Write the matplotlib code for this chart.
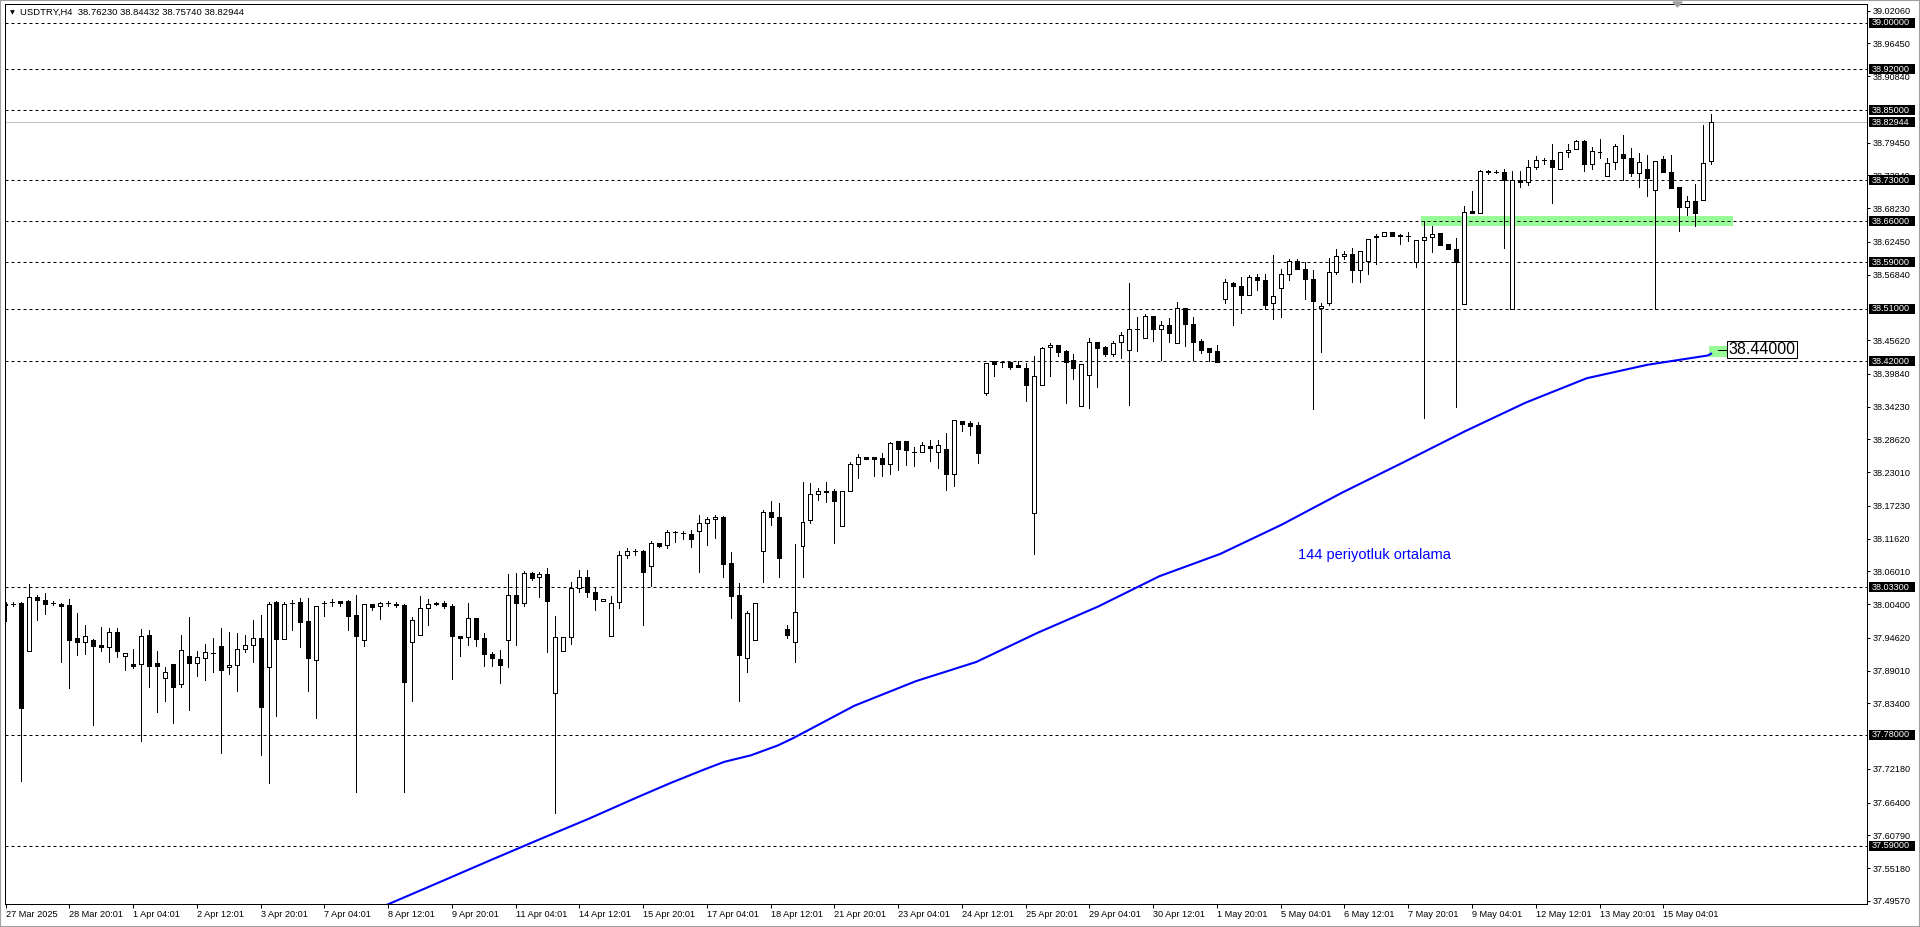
import numpy as np
import matplotlib
matplotlib.use("Agg")
import matplotlib.pyplot as plt
from matplotlib import transforms
from matplotlib.patches import Rectangle, Polygon

W, H = 1920, 927
plt.rcParams["font.family"] = ["Liberation Sans", "DejaVu Sans"]

# --- data (USDTRY, H4) ----------------------------------------------------
opens = [
    38.0051, 38.0046, 38.0057, 37.9233, 38.0160, 38.0120, 38.0057, 38.0040, 38.0023, 37.9455,
    37.9386, 37.9426, 37.9335, 37.9301, 37.9563, 37.9148, 37.9011, 37.9011, 37.9511, 37.9034,
    37.8784, 37.9017, 37.8670, 37.9153, 37.9028, 37.9114, 37.9199, 37.9318, 37.8960, 37.8994,
    37.9267, 37.9335, 37.9455, 37.8971, 38.0069, 37.9449, 38.0062, 38.0073, 37.9754, 37.9082,
    38.0062, 38.0085, 38.0090, 38.0096, 37.9857, 37.9418, 38.0039, 38.0005, 38.0056, 38.0051,
    38.0028, 37.9384, 37.9504, 37.9982, 38.0062, 38.0062, 38.0011, 37.9492, 37.9475, 37.9800,
    37.9458, 37.9184, 37.9105, 37.9424, 38.0199, 38.0068, 38.0575, 38.0501, 38.0552, 37.8518,
    37.9236, 37.9476, 38.0319, 38.0501, 38.0245, 38.0091, 37.9493, 38.0074, 38.0877, 38.0957,
    38.0946, 38.0689, 38.1082, 38.1048, 38.1271, 38.1253, 38.1242, 38.1288, 38.1424, 38.1493,
    38.1527, 38.0741, 38.0199, 37.9117, 37.9424, 38.0946, 38.1612, 38.1532, 37.9620, 37.9400,
    38.1041, 38.1486, 38.1926, 38.1983, 38.1972, 38.1372, 38.1972, 38.2434, 38.2554, 38.2554,
    38.2537, 38.2446, 38.2834, 38.2834, 38.2640, 38.2640, 38.2743, 38.2640, 38.2692, 38.2275,
    38.3177, 38.3143, 38.3103, 38.3663, 38.4200, 38.4183, 38.4195, 38.4143, 38.4086, 38.1600,
    38.3800, 38.4440, 38.4480, 38.4377, 38.4217, 38.3440, 38.3972, 38.4526, 38.4440, 38.4332,
    38.4526, 38.4389, 38.4749, 38.4595, 38.4972, 38.4749, 38.4817, 38.4520, 38.5109, 38.4835,
    38.4549, 38.4429, 38.4372, 38.5263, 38.5543, 38.5486, 38.5332, 38.5640, 38.5589, 38.5194,
    38.5452, 38.5692, 38.5914, 38.5777, 38.5606, 38.5109, 38.5194, 38.5726, 38.6000, 38.6034,
    38.5760, 38.5914, 38.6349, 38.6343, 38.6412, 38.6355, 38.6350, 38.5893, 38.6270, 38.6327,
    38.6390, 38.6207, 38.6116, 38.5178, 38.6768, 38.6733, 38.7460, 38.7448, 38.7442, 38.5104,
    38.7305, 38.7265, 38.7522, 38.7654, 38.7654, 38.7488, 38.7780, 38.7831, 38.7968, 38.7574,
    38.7791, 38.7368, 38.7614, 38.7745, 38.7677, 38.7420, 38.7488, 38.7134, 38.7660, 38.7442,
    38.7179, 38.6836, 38.6939, 38.6956, 38.7623,
]
highs = [
    38.0069, 38.0074, 38.0080, 38.0381, 38.0199, 38.0228, 38.0091, 38.0057, 38.0125, 37.9887,
    37.9682, 37.9438, 37.9648, 37.9631, 37.9631, 37.9199, 37.9273, 37.9614, 37.9597, 37.9239,
    37.8960, 37.9017, 37.9511, 37.9818, 37.9239, 37.9358, 37.9460, 37.9631, 37.9568, 37.9546,
    37.9511, 37.9767, 37.9853, 38.0080, 38.0097, 38.0080, 38.0113, 38.0147, 38.0147, 38.0005,
    38.0090, 38.0125, 38.0090, 38.0119, 38.0199, 38.0039, 38.0039, 38.0085, 38.0090, 38.0085,
    38.0051, 37.9823, 38.0182, 38.0130, 38.0073, 38.0096, 38.0051, 37.9492, 38.0068, 37.9800,
    37.9549, 37.9224, 37.9247, 38.0552, 38.0575, 38.0603, 38.0598, 38.0592, 38.0660, 37.9834,
    37.9476, 38.0416, 38.0621, 38.0621, 38.0336, 38.0125, 38.0177, 38.0951, 38.0997, 38.0991,
    38.0969, 38.1122, 38.1082, 38.1310, 38.1293, 38.1293, 38.1310, 38.1567, 38.1538, 38.1567,
    38.1550, 38.0934, 38.0404, 37.9920, 38.0057, 38.1652, 38.1800, 38.1772, 37.9680, 38.1070,
    38.2132, 38.2115, 38.2029, 38.2132, 38.2006, 38.1983, 38.2474, 38.2606, 38.2566, 38.2566,
    38.2629, 38.2812, 38.2834, 38.2834, 38.2737, 38.2812, 38.2857, 38.2857, 38.2966, 38.3189,
    38.3177, 38.3177, 38.3160, 38.4165, 38.4200, 38.4212, 38.4195, 38.4200, 38.4166, 38.4286,
    38.4452, 38.4509, 38.4480, 38.4395, 38.4320, 38.4149, 38.4595, 38.4526, 38.4469, 38.4543,
    38.4697, 38.5543, 38.4954, 38.5006, 38.4972, 38.4886, 38.4937, 38.5212, 38.5109, 38.4954,
    38.4583, 38.4429, 38.4475, 38.5606, 38.5560, 38.5640, 38.5674, 38.5697, 38.5697, 38.6017,
    38.5783, 38.5949, 38.5949, 38.5897, 38.5760, 38.5194, 38.5966, 38.6126, 38.6086, 38.6143,
    38.6086, 38.6292, 38.6389, 38.6412, 38.6412, 38.6377, 38.6419, 38.6270, 38.6608, 38.6510,
    38.6390, 38.6207, 38.6310, 38.6853, 38.7116, 38.7477, 38.7477, 38.7477, 38.7500, 38.7454,
    38.7454, 38.7648, 38.7717, 38.7683, 38.7923, 38.7780, 38.7917, 38.7991, 38.7991, 38.7866,
    38.8003, 38.7688, 38.7923, 38.8083, 38.7848, 38.7763, 38.7734, 38.7631, 38.7723, 38.7734,
    38.7179, 38.7025, 38.7231, 38.8249, 38.8443,
]
lows = [
    37.9756, 38.0012, 37.7010, 37.9233, 37.9767, 37.9875, 38.0029, 37.9057, 37.8596, 37.9176,
    37.9193, 37.7965, 37.9239, 37.9057, 37.9142, 37.8920, 37.8954, 37.7692, 37.8613, 37.8187,
    37.8374, 37.7999, 37.8613, 37.8221, 37.8818, 37.8733, 37.8875, 37.7488, 37.8841, 37.8545,
    37.9216, 37.9057, 37.7454, 37.6982, 37.8119, 37.9449, 37.9600, 37.9310, 37.8558, 37.8096,
    37.9845, 38.0011, 38.0016, 37.9600, 37.6820, 37.9327, 37.9942, 37.9788, 38.0011, 37.9988,
    37.6820, 37.8387, 37.9504, 37.9686, 38.0033, 37.9976, 37.8751, 37.9156, 37.9344, 37.9316,
    37.8985, 37.8985, 37.8683, 37.8968, 37.9344, 38.0016, 38.0455, 38.0170, 37.9213, 37.6467,
    37.9236, 37.9356, 38.0245, 38.0171, 37.9932, 38.0091, 37.9493, 37.9983, 38.0838, 38.0883,
    37.9675, 38.0353, 38.1020, 38.1008, 38.1105, 38.1162, 38.1020, 38.0598, 38.1060, 38.1179,
    38.0513, 37.9795, 37.8376, 37.8872, 37.9424, 38.0427, 38.1390, 38.0500, 37.9460, 37.9050,
    38.0500, 38.1435, 38.1829, 38.1795, 38.1080, 38.1372, 38.1972, 38.2206, 38.2532, 38.2240,
    38.2240, 38.2274, 38.2343, 38.2429, 38.2412, 38.2640, 38.2497, 38.2377, 38.2000, 38.2069,
    38.3011, 38.2943, 38.2463, 38.3628, 38.3954, 38.4109, 38.4069, 38.4097, 38.3526, 38.0900,
    38.3800, 38.3955, 38.4297, 38.3492, 38.3903, 38.3440, 38.3406, 38.3766, 38.4297, 38.4297,
    38.4263, 38.3458, 38.4383, 38.4595, 38.4555, 38.4223, 38.4537, 38.4520, 38.4469, 38.4223,
    38.4337, 38.4200, 38.4183, 38.5194, 38.4829, 38.5023, 38.5332, 38.5423, 38.5092, 38.4920,
    38.4966, 38.5589, 38.5777, 38.5275, 38.3389, 38.4366, 38.5160, 38.5697, 38.5949, 38.5554,
    38.5554, 38.5692, 38.5863, 38.6343, 38.6343, 38.6206, 38.6265, 38.5807, 38.3223, 38.6064,
    38.6196, 38.6121, 38.3410, 38.5178, 38.6733, 38.6733, 38.7402, 38.7420, 38.6133, 38.5104,
    38.7191, 38.7225, 38.7488, 38.7580, 38.6905, 38.7488, 38.7705, 38.7831, 38.7465, 38.7500,
    38.7688, 38.7368, 38.7494, 38.7299, 38.7380, 38.7191, 38.7036, 38.5104, 38.7437, 38.7174,
    38.6436, 38.6710, 38.6522, 38.6956, 38.7574,
]
closes = [
    38.0029, 38.0043, 37.8261, 38.0171, 38.0114, 38.0046, 38.0054, 38.0017, 37.9432, 37.9386,
    37.9489, 37.9330, 37.9312, 37.9563, 37.9244, 37.9199, 37.8988, 37.9489, 37.8988, 37.8988,
    37.8875, 37.8613, 37.9250, 37.9028, 37.9131, 37.9216, 37.9196, 37.8909, 37.8994, 37.9267,
    37.9335, 37.9455, 37.8272, 38.0051, 37.9449, 38.0051, 38.0060, 37.9743, 37.9110, 38.0005,
    38.0060, 38.0083, 38.0068, 37.9845, 37.9498, 38.0039, 37.9999, 38.0056, 38.0054, 38.0028,
    37.8700, 37.9766, 37.9971, 38.0045, 38.0039, 38.0005, 37.9498, 37.9469, 37.9800, 37.9452,
    37.9179, 37.9110, 37.8991, 38.0193, 38.0068, 38.0569, 38.0495, 38.0558, 38.0102, 37.9475,
    37.9476, 38.0319, 38.0501, 38.0245, 38.0137, 38.0125, 38.0057, 38.0877, 38.0951, 38.0955,
    38.0598, 38.1082, 38.1043, 38.1276, 38.1269, 38.1251, 38.1162, 38.1430, 38.1498, 38.1527,
    38.0735, 38.0188, 37.9162, 37.9886, 38.0057, 38.1612, 38.1527, 38.0835, 37.9520, 37.9900,
    38.1441, 38.1932, 38.1983, 38.1955, 38.1812, 38.1983, 38.2434, 38.2554, 38.2532, 38.2532,
    38.2446, 38.2794, 38.2703, 38.2686, 38.2638, 38.2760, 38.2720, 38.2760, 38.2275, 38.3189,
    38.3131, 38.3097, 38.2634, 38.4165, 38.4160, 38.4181, 38.4109, 38.4109, 38.3800, 38.3943,
    38.4429, 38.4480, 38.4366, 38.4195, 38.4092, 38.4149, 38.4526, 38.4435, 38.4332, 38.4509,
    38.4646, 38.4749, 38.4747, 38.4972, 38.4749, 38.4817, 38.4692, 38.5109, 38.4835, 38.4537,
    38.4400, 38.4366, 38.4183, 38.5554, 38.5486, 38.5332, 38.5640, 38.5589, 38.5160, 38.5326,
    38.5692, 38.5914, 38.5777, 38.5617, 38.5229, 38.5143, 38.5726, 38.6000, 38.6040, 38.5760,
    38.6086, 38.6292, 38.6326, 38.6412, 38.6343, 38.6353, 38.6348, 38.6270, 38.6327, 38.6385,
    38.6196, 38.6121, 38.5893, 38.6762, 38.6733, 38.7454, 38.7437, 38.7446, 38.7305, 38.7299,
    38.7265, 38.7522, 38.7654, 38.7652, 38.7534, 38.7780, 38.7826, 38.7968, 38.7574, 38.7797,
    38.7789, 38.7591, 38.7883, 38.7677, 38.7420, 38.7608, 38.7345, 38.7631, 38.7437, 38.7174,
    38.6836, 38.6939, 38.6733, 38.7591, 38.8294,
]

# 144-period moving average, read at a few points (bar index, price)
ma_bar = [47.5, 54.5, 60.6, 66.8, 73.1, 79.4, 83.5, 87.7, 90.2, 93.5, 96.9, 98.9, 106.5, 114.2,
          121.8, 129.5, 137.1, 144.8, 152.4, 160.1, 167.7, 175.4, 183.1, 190.7, 198.4, 206.0,
          213.6, 214.0]
ma_val = [37.487, 37.528, 37.564, 37.600, 37.636, 37.674, 37.698, 37.721, 37.734, 37.745,
          37.762, 37.775, 37.830, 37.872, 37.905, 37.955, 38.000, 38.052, 38.090, 38.140,
          38.195, 38.247, 38.300, 38.349, 38.391, 38.414, 38.430, 38.433]

levels = [39.0, 38.92, 38.85, 38.73, 38.66, 38.59, 38.51, 38.42, 38.033, 37.78, 37.59]
last_price = 38.82944
ma_label_price = 38.44
header = "USDTRY,H4  38.76230 38.84432 38.75740 38.82944"
ma_text = "144 periyotluk ortalama"

ytick_vals = [39.0206, 38.9645, 38.9084, 38.7945, 38.7384, 38.6823, 38.6245, 38.5684,
              38.4562, 38.3984, 38.3423, 38.2862, 38.2301, 38.1723, 38.1162, 38.0601,
              38.0040, 37.9462, 37.8901, 37.8340, 37.7218, 37.6640, 37.6079, 37.5518,
              37.4957]
time_labels = [
    "27 Mar 2025", "28 Mar 20:01", "1 Apr 04:01", "2 Apr 12:01", "3 Apr 20:01",
    "7 Apr 04:01", "8 Apr 12:01", "9 Apr 20:01", "11 Apr 04:01", "14 Apr 12:01",
    "15 Apr 20:01", "17 Apr 04:01", "18 Apr 12:01", "21 Apr 20:01", "23 Apr 04:01",
    "24 Apr 12:01", "25 Apr 20:01", "29 Apr 04:01", "30 Apr 12:01", "1 May 20:01",
    "5 May 04:01", "6 May 12:01", "7 May 20:01", "9 May 04:01", "12 May 12:01",
    "13 May 20:01", "15 May 04:01",
]

# --- layout (pixel based, MT4 look) -----------------------------------------
PX = 7.97            # pixels per bar
X0 = 5.5             # pixel x of bar 0
LW = 0.72            # one pixel at 100 dpi
fig = plt.figure(figsize=(W / 100, H / 100), dpi=100)
ax = fig.add_axes([5 / W, 1 - 903.5 / H, (1867 - 5) / W, (903.5 - 4) / H])
ax.set_xlim((5 - X0) / PX, (1867 - X0) / PX)
ax.set_ylim(37.4913, 39.0320)
ax.set_facecolor("white")

o, h, l, c = (np.array(a) for a in (opens, highs, lows, closes))
x = np.arange(len(o))
up = c >= o
body_lo = np.minimum(o, c)
body_h = np.abs(c - o)

ax.vlines(x, l, h, color="black", lw=LW, zorder=3, antialiased=False)
ax.bar(x[up], body_h[up], bottom=body_lo[up], width=0.5, color="white",
       edgecolor="black", lw=LW, zorder=4, antialiased=False)
ax.bar(x[~up], body_h[~up], bottom=body_lo[~up], width=0.5, color="black",
       edgecolor="black", lw=LW, zorder=4, antialiased=False)

for lvl in levels:
    ax.axhline(lvl, color="black", lw=LW, ls=(0, (3, 3)), zorder=2)
ax.axhline(last_price, color="#C0C0C0", lw=LW, zorder=1.5)

# green zone at 38.66
ax.add_patch(Rectangle((177.6, 38.66 - 0.0086), 39.1, 0.0172, color="#98FB98",
                       lw=0, zorder=1))

# moving average
ax.plot(ma_bar, ma_val, color="#0000FF", lw=1.5, zorder=5)
ax.text(171.7, 38.088, ma_text, color="#0000FF", fontsize=10.5, ha="center",
        va="center", zorder=6)

# price label for the MA
ax.add_patch(Rectangle((213.7, 38.427), 2.7, 0.020, color="#98FB98", lw=0,
                       zorder=4.5, clip_on=False))
ax.plot([214.9, 216.2], [ma_label_price, ma_label_price], color="black", lw=LW,
        zorder=6)
ax.text(216.2, ma_label_price, f"{ma_label_price:.5f}", fontsize=11.5, ha="left",
        va="center", zorder=7,
        bbox=dict(boxstyle="square,pad=0.08", fc="white", ec="black", lw=LW))

# axes and ticks
for sp in ax.spines.values():
    sp.set_color("black")
    sp.set_linewidth(LW)
ax.yaxis.tick_right()
ax.set_yticks(ytick_vals)
ax.set_yticklabels([f"{v:.5f}" for v in ytick_vals])
ax.tick_params(axis="y", length=2.2, width=LW, pad=2, labelsize=6.6)
ax.set_xticks(np.arange(0, 8 * len(time_labels), 8))
ax.set_xticklabels(time_labels, ha="left")
ax.tick_params(axis="x", length=3, width=LW, pad=1.5, labelsize=6.6)

# black boxed price labels on the right scale
trans = transforms.blended_transform_factory(ax.transAxes, ax.transData)
for lvl in levels + [last_price]:
    ax.add_patch(Rectangle((1 + 2 / 1862, lvl - 0.0086), 46 / 1862, 0.0172,
                           transform=trans, fc="black", ec="none", clip_on=False,
                           zorder=10))
    ax.text(1 + 5 / 1862, lvl, f"{lvl:.5f}", transform=trans, color="white",
            fontsize=6.6, ha="left", va="center", clip_on=False, zorder=11)

# header and window decorations
fig.text(10 / W, 1 - 12.7 / H, "\u25BC", fontsize=4.5, family="DejaVu Sans",
         va="center", ha="left")
fig.text(20 / W, 1 - 12.7 / H, header, fontsize=6.8, va="center", ha="left")
fig.add_artist(Polygon([[1673 / W, 1 - 2 / H], [1682 / W, 1 - 2 / H],
                        [1677.5 / W, 1 - 7 / H]], closed=True,
                       transform=fig.transFigure, color="#A0A0A0"))
fig.add_artist(Rectangle((0, 0), 1, 1, transform=fig.transFigure, fill=False,
                         ec="#A0A0A0", lw=1.5))

fig.savefig("out.png", dpi=100)
